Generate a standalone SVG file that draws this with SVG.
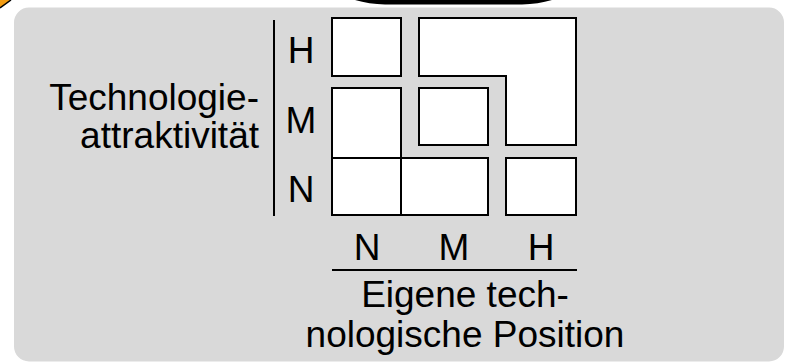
<svg xmlns="http://www.w3.org/2000/svg" width="788" height="364" viewBox="0 0 788 364">
  <style>
    .cell { fill: #ffffff; stroke: #000000; stroke-width: 2; }
    .axis { stroke: #000000; stroke-width: 2; fill: none; }
    .lbl { font-family: "Liberation Sans", Arial, sans-serif; font-size: 37px; fill: #000000; }
  </style>
  <!-- backdrop fragments -->
  <path d="M0,0 L11,0 L0,8 Z" fill="#f39c12"/>
  <line x1="11" y1="0" x2="0" y2="8" stroke="#000" stroke-width="1.5"/>
  <path d="M355,0 L552,0 Q538,4 522,4.5 L385,4.5 Q369,4 355,0 Z" fill="#000"/>
  <!-- panel -->
  <rect x="13" y="6.5" width="772" height="356" rx="16" fill="#d9d9d9" stroke="#ffffff" stroke-width="2"/>

  <!-- axes -->
  <g id="axes">
    <line class="axis" x1="274" y1="20" x2="274" y2="216"/>
    <line class="axis" x1="332" y1="270" x2="577" y2="270"/>
  </g>

  <!-- portfolio cells -->
  <g id="cell-NH"><rect class="cell" x="332" y="18" width="69" height="58"/></g>
  <g id="cell-MH-HH-HM"><path class="cell" d="M419,18 L576,18 L576,145 L506,145 L506,76 L419,76 Z"/></g>
  <g id="cell-NM"><rect class="cell" x="332" y="88" width="69" height="70"/></g>
  <g id="cell-MM"><rect class="cell" x="419" y="88" width="69" height="57"/></g>
  <g id="cell-NN"><rect class="cell" x="332" y="158" width="69" height="57"/></g>
  <g id="cell-MN"><rect class="cell" x="401" y="158" width="87" height="57"/></g>
  <g id="cell-HN"><rect class="cell" x="506" y="158" width="70" height="57"/></g>

  <!-- labels -->
  <g id="y-labels">
    <text class="lbl" x="301" y="63" text-anchor="middle">H</text>
    <text class="lbl" x="301" y="133" text-anchor="middle">M</text>
    <text class="lbl" x="301" y="202" text-anchor="middle">N</text>
    <text class="lbl" x="259" y="110" text-anchor="end">Technologie-</text>
    <text class="lbl" x="259" y="148" text-anchor="end">attraktivität</text>
  </g>
  <g id="x-labels">
    <text class="lbl" x="367" y="260" text-anchor="middle">N</text>
    <text class="lbl" x="454" y="260" text-anchor="middle">M</text>
    <text class="lbl" x="541" y="260" text-anchor="middle">H</text>
    <text class="lbl" x="465" y="307" text-anchor="middle">Eigene tech-</text>
    <text class="lbl" x="465" y="347" text-anchor="middle">nologische Position</text>
  </g>
</svg>
